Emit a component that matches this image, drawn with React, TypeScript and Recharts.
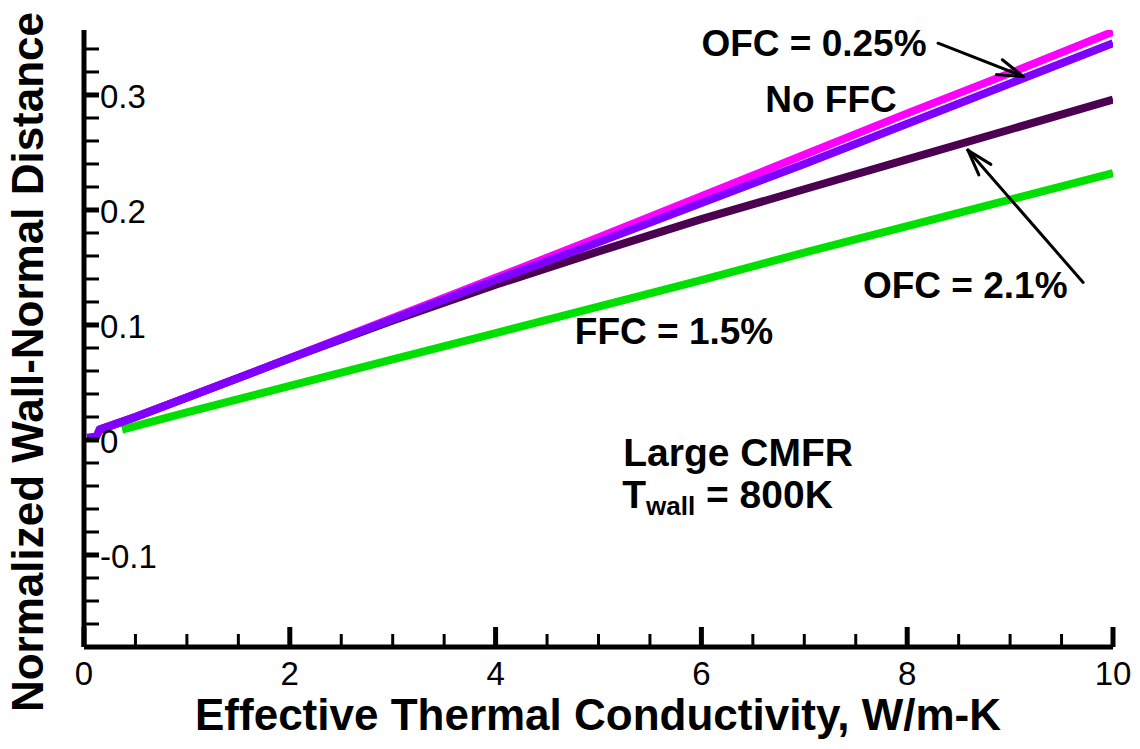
import React from "react";
import { LineChart, Line, XAxis, YAxis, ReferenceLine, ReferenceDot } from "recharts";

// Values (x: W/m-K, y: normalized wall-normal distance).
const noFfcX = [0.03, 0.12, 0.15, 0.5, 1, 2, 3, 4, 5, 6, 7, 8, 9, 10];
const noFfcY = [0.002, 0.003, 0.009, 0.02, 0.037, 0.071, 0.105, 0.139, 0.172, 0.206, 0.24, 0.275, 0.31, 0.345];

const ofc025X = [0.15, 0.5, 1, 2, 3, 4, 5, 6, 7, 8, 9, 10];
const ofc025Y = [0.009, 0.02, 0.037, 0.071, 0.106, 0.141, 0.176, 0.212, 0.248, 0.284, 0.319, 0.355];

const ofc21X = [0.15, 0.5, 1, 2, 3, 4, 5, 6, 7, 8, 9, 10];
const ofc21Y = [0.009, 0.02, 0.037, 0.071, 0.104, 0.135, 0.164, 0.192, 0.218, 0.244, 0.27, 0.296];

const ffc15X = [0.37, 1, 2, 3, 4, 5, 6, 7, 8, 9, 10];
const ffc15Y = [0.009, 0.024, 0.047, 0.07, 0.093, 0.116, 0.139, 0.163, 0.186, 0.209, 0.232];

// Axis ticks (minor + labelled major).
const xTicks = [0, 0.5, 1, 1.5, 2, 2.5, 3, 3.5, 4, 4.5, 5, 5.5, 6, 6.5, 7, 7.5, 8, 8.5, 9, 9.5, 10];
const xMajorTicks = [0, 2, 4, 6, 8, 10];
const yTicks = [
  -0.18, -0.16, -0.14, -0.12, -0.1, -0.08, -0.06, -0.04, -0.02, 0, 0.02, 0.04, 0.06, 0.08, 0.1,
  0.12, 0.14, 0.16, 0.18, 0.2, 0.22, 0.24, 0.26, 0.28, 0.3, 0.32, 0.34,
];
const yMajorTicks = [-0.1, 0, 0.1, 0.2, 0.3];
const yMajorLabels = ["-0.1", "0", "0.1", "0.2", "0.3"];

const toPoints = (xs: number[], ys: number[]) => xs.map((k, i) => ({ k, d: ys[i] }));

const W = 1124;
const H = 733;
const M = { top: 22, right: 19, bottom: 93, left: 75 };
const plotLeft = 76;
const plotBottom = 639;

const FONT = "'Liberation Sans', Arial, Helvetica, sans-serif";

const isMajor = (v: number, list: number[]) => list.findIndex((m) => Math.abs(m - v) < 1e-6);

const XTick = (props: any) => {
  const { x, payload } = props;
  const idx = isMajor(payload.value, xMajorTicks);
  const major = idx >= 0;
  return (
    <g>
      <line x1={x} x2={x} y1={plotBottom} y2={plotBottom - (major ? 20 : 13)} stroke="#000" strokeWidth={major ? 5 : 3} />
      {major && (
        <text x={x} y={plotBottom + 26} textAnchor="middle" dominantBaseline="central" fontSize={33} fontFamily={FONT} fill="#000">
          {String(xMajorTicks[idx])}
        </text>
      )}
    </g>
  );
};

const YTick = (props: any) => {
  const { y, payload } = props;
  const idx = isMajor(payload.value, yMajorTicks);
  const major = idx >= 0;
  return (
    <g>
      <line x1={plotLeft} x2={plotLeft + 15} y1={y} y2={y} stroke="#000" strokeWidth={major ? 5 : 3} />
      {major && (
        <text x={plotLeft + 16} y={y + 2} textAnchor="start" dominantBaseline="central" fontSize={33} fontFamily={FONT} fill="#000">
          {yMajorLabels[idx]}
        </text>
      )}
    </g>
  );
};

// open-headed arrow drawn between the two segment ends
const Arrow = (props: any) => {
  const { x1, y1, x2, y2 } = props;
  const ang = Math.atan2(y2 - y1, x2 - x1);
  const len = 27;
  const spread = 0.3;
  const ax = x2 - len * Math.cos(ang - spread);
  const ay = y2 - len * Math.sin(ang - spread);
  const bx = x2 - len * Math.cos(ang + spread);
  const by = y2 - len * Math.sin(ang + spread);
  return (
    <g stroke="#000" strokeWidth={3} strokeLinecap="round">
      <line x1={x1} y1={y1} x2={x2} y2={y2} />
      <line x1={ax} y1={ay} x2={x2} y2={y2} />
      <line x1={bx} y1={by} x2={x2} y2={y2} />
    </g>
  );
};

const makeLabel = (text: string, size: number) => (props: any) => (
  <text x={props.cx} y={props.cy} textAnchor="start" dominantBaseline="central" fontSize={size} fontWeight="bold" fontFamily={FONT} fill="#000">
    {text}
  </text>
);

const TwallLabel = (props: any) => (
  <text x={props.cx} y={props.cy} dominantBaseline="central" fontSize={39} fontWeight="bold" fontFamily={FONT} fill="#000">
    T
    <tspan fontSize={26} dy={12}>wall</tspan>
    <tspan dy={-12}> = 800K</tspan>
  </text>
);

const App: React.FC = () => {
  return (
    <div style={{ position: "relative", width: W, height: H, background: "#fff" }}>
      <LineChart width={W} height={H} margin={M}>
        <XAxis
          dataKey="k"
          type="number"
          domain={[0, 10]}
          ticks={xTicks}
          interval={0}
          height={1}
          allowDataOverflow
          axisLine={{ stroke: "#000", strokeWidth: 5 }}
          tickLine={false}
          tick={<XTick />}
        />
        <YAxis
          type="number"
          domain={[-0.18, 0.3565]}
          ticks={yTicks}
          interval={0}
          width={1}
          allowDataOverflow
          axisLine={{ stroke: "#000", strokeWidth: 5 }}
          tickLine={false}
          tick={<YTick />}
        />
        <Line data={toPoints(ffc15X, ffc15Y)} dataKey="d" type="linear" stroke="#00e000" strokeWidth={8} dot={false} isAnimationActive={false} />
        <Line data={toPoints(ofc21X, ofc21Y)} dataKey="d" type="linear" stroke="#4b0050" strokeWidth={8} dot={false} isAnimationActive={false} />
        <Line data={toPoints(ofc025X, ofc025Y)} dataKey="d" type="linear" stroke="#ff00ff" strokeWidth={8} dot={false} isAnimationActive={false} />
        <Line data={toPoints(noFfcX, noFfcY)} dataKey="d" type="linear" stroke="#8000ff" strokeWidth={8} dot={false} isAnimationActive={false} />

        <ReferenceLine segment={[{ x: 8.3, y: 0.345 }, { x: 9.13, y: 0.316 }]} shape={Arrow} />
        <ReferenceLine segment={[{ x: 9.71, y: 0.137 }, { x: 8.59, y: 0.252 }]} shape={Arrow} />

        <ReferenceDot x={6.0} y={0.345} r={0} shape={makeLabel("OFC = 0.25%", 37)} />
        <ReferenceDot x={6.62} y={0.296} r={0} shape={makeLabel("No FFC", 37)} />
        <ReferenceDot x={7.57} y={0.134} r={0} shape={makeLabel("OFC = 2.1%", 37)} />
        <ReferenceDot x={4.77} y={0.094} r={0} shape={makeLabel("FFC = 1.5%", 37)} />
        <ReferenceDot x={5.24} y={-0.011} r={0} shape={makeLabel("Large CMFR", 39)} />
        <ReferenceDot x={5.23} y={-0.047} r={0} shape={TwallLabel} />
      </LineChart>
      <div
        style={{
          position: "absolute",
          left: 590,
          top: 707,
          transform: "translate(-50%, -50%)",
          whiteSpace: "nowrap",
          fontFamily: FONT,
          fontWeight: "bold",
          fontSize: 44,
          lineHeight: "44px",
          color: "#000",
        }}
      >
        Effective Thermal Conductivity, W/m-K
      </div>
      <div
        style={{
          position: "absolute",
          left: 20,
          top: 354,
          transform: "translate(-50%, -50%) rotate(-90deg)",
          whiteSpace: "nowrap",
          fontFamily: FONT,
          fontWeight: "bold",
          fontSize: 44,
          lineHeight: "44px",
          color: "#000",
        }}
      >
        Normalized Wall-Normal Distance
      </div>
    </div>
  );
};

export default App;
